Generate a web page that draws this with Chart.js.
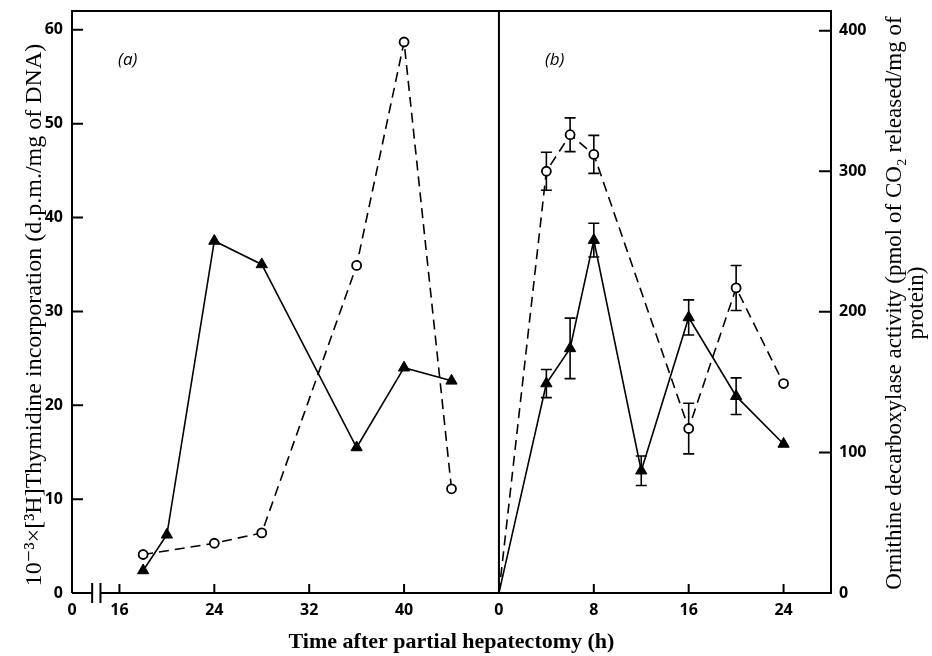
<!DOCTYPE html>
<html lang="en">
<head>
  <meta charset="UTF-8" />
  <title>Thymidine incorporation and ornithine decarboxylase</title>
  <style>
    body {
      margin: 0;
      padding: 0;
      background: #fff;
    }
    #chart {
      display: block;
    }
  </style>
</head>
<body>
  <canvas id="chart" width="932" height="656"></canvas>

  <script src="https://cdn.jsdelivr.net/npm/chart.js"></script>
  <script>
    // panel (a): hours 12..48, left axis (10^-3 x d.p.m./mg of DNA)
    const aTriTimes = [18, 20, 24, 28, 36, 40, 44];
    const aTriValues = [2.4, 6.2, 37.5, 35, 15.5, 24, 22.6];
    const aCircTimes = [18, 24, 28, 36, 40, 44];
    const aCircValues = [4.1, 5.3, 6.4, 34.9, 58.7, 11.1];

    // panel (b): hours 0..28, right axis (pmol CO2/mg of protein)
    const bTriTimes = [0, 4, 6, 8, 12, 16, 20, 24];
    const bTriValues = [0, 149, 174, 251, 87, 196, 140, 106];
    const bTriErrors = [0, 10, 21.5, 12, 10.5, 12.5, 13, 0];
    const bCircTimes = [0, 4, 6, 8, 16, 20, 24];
    const bCircValues = [0, 300, 326, 312, 117, 217, 149];
    const bCircErrors = [0, 13.5, 12, 13.5, 18, 16, 0];

    const aTickLabels = ['0', '16', '24', '32', '40'];
    const aTickTimes = [12, 16, 24, 32, 40];
    const bTickLabels = ['0', '8', '16', '24'];
    const bTickTimes = [0, 8, 16, 24];
    const leftTicks = [0, 10, 20, 30, 40, 50, 60];
    const rightTicks = [0, 100, 200, 300, 400];

    // both panels share one x scale: (a) spans 12..48 h, (b) follows it
    const A_START = 12;
    const B_OFFSET = 36;
    const X_MAX = 64;
    const breakTimes = [13.7, 14.4];

    const toA = (t) => t - A_START;
    const toB = (t) => t + B_OFFSET;

    const pts = (times, values, fx) => times.map((t, i) => ({ x: fx(t), y: values[i] }));

    const tickValues = aTickTimes.map(toA).concat(bTickTimes.map(toB));
    const tickText = aTickLabels.concat(bTickLabels);

    const SERIF = '"Liberation Serif", "DejaVu Serif", serif';
    const SANS = '"Open Sans", "DejaVu Sans", sans-serif';
    const tickFont = { family: SANS, size: 16, weight: 'bold' };

    const triStyle = {
      borderColor: '#000',
      backgroundColor: '#000',
      borderWidth: 1.6,
      pointStyle: 'triangle',
      pointRadius: 6.5,
      pointBorderWidth: 1,
    };
    const circStyle = {
      borderColor: '#000',
      backgroundColor: '#fff',
      borderWidth: 1.6,
      borderDash: [10, 6],
      pointStyle: 'circle',
      pointRadius: 4.5,
      pointBorderWidth: 1.8,
    };

    const frame = {
      id: 'frame',
      beforeDatasetsDraw(chart) {
        const ctx = chart.ctx;
        ctx.save();
        ctx.strokeStyle = '#000';
        ctx.lineWidth = 1.6;
        chart.data.datasets.forEach((ds, i) => {
          if (!ds.errors) return;
          const yScale = chart.scales[ds.yAxisID];
          chart.getDatasetMeta(i).data.forEach((pt, j) => {
            const e = ds.errors[j];
            if (!e) return;
            const v = ds.data[j].y;
            const top = yScale.getPixelForValue(v + e);
            const bot = yScale.getPixelForValue(v - e);
            ctx.beginPath();
            ctx.moveTo(pt.x, top);
            ctx.lineTo(pt.x, bot);
            ctx.moveTo(pt.x - 5.5, top);
            ctx.lineTo(pt.x + 5.5, top);
            ctx.moveTo(pt.x - 5.5, bot);
            ctx.lineTo(pt.x + 5.5, bot);
            ctx.stroke();
          });
        });
        ctx.restore();
      },
      afterDraw(chart) {
        const { ctx, chartArea: ca, scales } = chart;
        const x = scales.x, y = scales.y, y2 = scales.y2;
        ctx.save();
        ctx.strokeStyle = '#000';
        ctx.lineWidth = 2;
        const b1 = x.getPixelForValue(toA(breakTimes[0]));
        const b2 = x.getPixelForValue(toA(breakTimes[1]));
        const mid = x.getPixelForValue(B_OFFSET);
        ctx.beginPath();
        ctx.moveTo(ca.left, ca.bottom);
        ctx.lineTo(ca.left, ca.top);
        ctx.lineTo(ca.right, ca.top);
        ctx.lineTo(ca.right, ca.bottom);
        ctx.lineTo(b2, ca.bottom);
        ctx.moveTo(b1, ca.bottom);
        ctx.lineTo(ca.left, ca.bottom);
        ctx.moveTo(mid, ca.top);
        ctx.lineTo(mid, ca.bottom);
        // axis break
        [b1, b2].forEach((bx) => {
          ctx.moveTo(bx, ca.bottom - 10);
          ctx.lineTo(bx, ca.bottom + 10);
        });
        // inward ticks
        tickValues.forEach((v) => {
          if (v === 0 || v === B_OFFSET) return;
          const px = x.getPixelForValue(v);
          ctx.moveTo(px, ca.bottom);
          ctx.lineTo(px, ca.bottom - 9);
        });
        leftTicks.forEach((v) => {
          if (v === 0) return;
          const py = y.getPixelForValue(v);
          ctx.moveTo(ca.left, py);
          ctx.lineTo(ca.left + 11, py);
        });
        rightTicks.forEach((v) => {
          if (v === 0) return;
          const py = y2.getPixelForValue(v);
          ctx.moveTo(ca.right, py);
          ctx.lineTo(ca.right - 12, py);
        });
        ctx.stroke();

        // panel labels
        ctx.fillStyle = '#000';
        ctx.font = 'italic 17px ' + SANS;
        ctx.textAlign = 'center';
        ctx.textBaseline = 'middle';
        ctx.fillText('(a)', x.getPixelForValue(toA(16.7)), y.getPixelForValue(56.8));
        ctx.fillText('(b)', x.getPixelForValue(toB(4.7)), y.getPixelForValue(56.8));

        // axis titles, both read bottom to top
        ctx.font = '24px ' + SERIF;
        ctx.save();
        ctx.translate(35, 315);
        ctx.rotate(-Math.PI / 2);
        ctx.fillText('10\u207B\u00B3\u00D7[\u00B3H]Thymidine incorporation (d.p.m./mg of DNA)', 0, 0);
        ctx.restore();

        ctx.font = '23px ' + SERIF;
        ctx.translate(895, 303);
        ctx.rotate(-Math.PI / 2);
        ctx.fillText('Ornithine decarboxylase activity (pmol of CO\u2082 released/mg of', 0, 0);
        ctx.fillText('protein)', 0, 22);
        ctx.restore();
      },
    };

    new Chart(document.getElementById('chart'), {
      type: 'line',
      data: {
        datasets: [
          Object.assign({ data: pts(aTriTimes, aTriValues, toA), yAxisID: 'y' }, triStyle),
          Object.assign({ data: pts(aCircTimes, aCircValues, toA), yAxisID: 'y' }, circStyle),
          Object.assign({ data: pts(bTriTimes, bTriValues, toB), yAxisID: 'y2', errors: bTriErrors },
            triStyle, { pointRadius: bTriTimes.map((t) => (t === 0 ? 0 : 6.5)) }),
          Object.assign({ data: pts(bCircTimes, bCircValues, toB), yAxisID: 'y2', errors: bCircErrors },
            circStyle, { pointRadius: bCircTimes.map((t) => (t === 0 ? 0 : 4.5)) }),
        ],
      },
      options: {
        responsive: false,
        animation: false,
        layout: { padding: { top: 11, left: 0, right: 0, bottom: 0 } },
        plugins: { legend: { display: false }, tooltip: { enabled: false } },
        elements: { line: { tension: 0 } },
        scales: {
          x: {
            type: 'linear',
            min: 0,
            max: X_MAX,
            grid: { display: false, drawTicks: false },
            border: { display: false },
            afterBuildTicks: (s) => { s.ticks = tickValues.map((v) => ({ value: v })); },
            afterFit: (s) => { s.height = 63; },
            ticks: {
              autoSkip: false,
              maxRotation: 0,
              padding: 8,
              color: '#000',
              font: tickFont,
              callback: (v) => tickText[tickValues.indexOf(v)],
            },
            title: {
              display: true,
              text: 'Time after partial hepatectomy (h)',
              color: '#000',
              font: { family: SERIF, size: 22, weight: 'bold' },
              padding: { top: 0, bottom: 0 },
            },
          },
          y: {
            position: 'left',
            min: 0,
            max: 62,
            grid: { display: false, drawTicks: false },
            border: { display: false },
            afterBuildTicks: (s) => { s.ticks = leftTicks.map((v) => ({ value: v })); },
            afterFit: (s) => { s.width = 72; s.paddingTop = 0; },
            ticks: {
              padding: 9,
              color: '#000',
              font: tickFont,
            },
          },
          y2: {
            position: 'right',
            min: 0,
            max: 414,
            grid: { display: false, drawTicks: false },
            border: { display: false },
            afterBuildTicks: (s) => { s.ticks = rightTicks.map((v) => ({ value: v })); },
            afterFit: (s) => { s.width = 101; s.paddingTop = 0; },
            ticks: {
              padding: 8,
              color: '#000',
              font: tickFont,
            },
          },
        },
      },
      plugins: [frame],
    });
  </script>
</body>
</html>
